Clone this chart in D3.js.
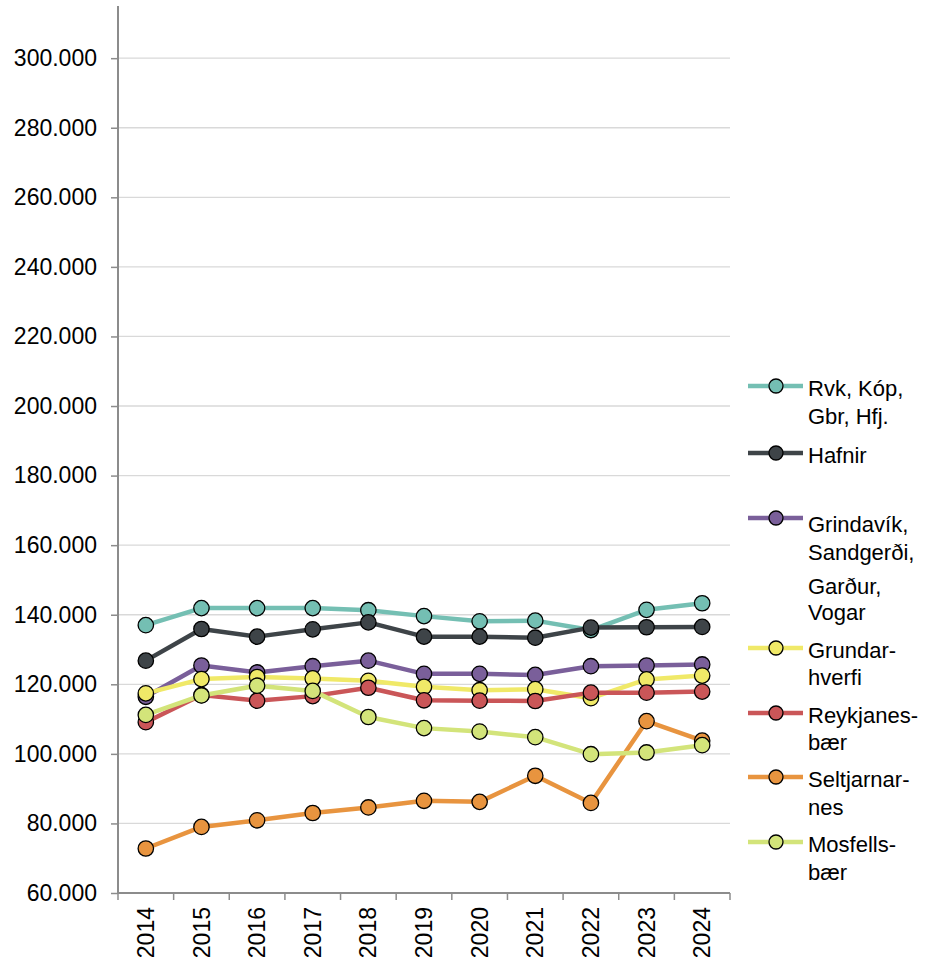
<!DOCTYPE html>
<html>
<head>
<meta charset="utf-8">
<script src="https://cdn.jsdelivr.net/npm/d3@7"></script>
<style>
  html, body { margin: 0; padding: 0; background: #fff; }
  svg { display: block; font-family: "Liberation Sans", Arial, sans-serif; }
</style>
</head>
<body>
<svg id="chart" width="926" height="965"></svg>
<script>
const years = ["2014","2015","2016","2017","2018","2019","2020","2021","2022","2023","2024"];
const seriesNames = ["Rvk, Kóp, Gbr, Hfj.", "Hafnir", "Grindavík, Sandgerði, Garður, Vogar", "Grundarhverfi", "Reykjanesbær", "Seltjarnarnes", "Mosfellsbær"];
const rvk       = [137000, 141900, 141900, 141900, 141300, 139600, 138100, 138300, 135600, 141400, 143300];
const hafnir    = [126800, 135900, 133700, 135800, 137800, 133700, 133700, 133400, 136300, 136400, 136500];
const grindavik = [116400, 125400, 123400, 125200, 126800, 123000, 123000, 122700, 125200, 125400, 125700];
const grundar   = [117400, 121500, 122100, 121700, 121000, 119300, 118300, 118600, 116000, 121400, 122500];
const reykjanes = [109100, 116900, 115300, 116600, 119000, 115400, 115300, 115200, 117600, 117600, 117900];
const seltjarn  = [72800, 79000, 80900, 83000, 84600, 86500, 86200, 93700, 85900, 109400, 103800];
const mosfells  = [111200, 116800, 119600, 118100, 110600, 107400, 106400, 104800, 99900, 100400, 102500];
const yTicks = [60000, 80000, 100000, 120000, 140000, 160000, 180000, 200000, 220000, 240000, 260000, 280000, 300000];
const legendLines = [
  ["Rvk, Kóp,", "Gbr, Hfj."],
  ["Hafnir"],
  ["Grindavík,", "Sandgerði,", "Garður,", "Vogar"],
  ["Grundar-", "hverfi"],
  ["Reykjanes-", "bær"],
  ["Seltjarnar-", "nes"],
  ["Mosfells-", "bær"]
];
const colors = ["#74BFB3", "#3E4448", "#7A5F9A", "#F0E968", "#CA5658", "#E8943F", "#D3E47A"];
const allValues = [rvk, hafnir, grindavik, grundar, reykjanes, seltjarn, mosfells];

const svg = d3.select("#chart");
const mLeft = 118, mRight = 730, mBottom = 893, mTop = 6;

const x = d3.scaleBand().domain(years).range([mLeft, mRight]);
const y = d3.scaleLinear().domain([60000, 315000]).range([mBottom, mTop]);

const loc = d3.formatLocale({decimal: ",", thousands: ".", grouping: [3], currency: ["", ""]});
const fmt = loc.format(",.0f");

// gridlines
svg.append("g").selectAll("line").data(yTicks.slice(1)).join("line")
  .attr("x1", mLeft).attr("x2", mRight)
  .attr("y1", d => y(d)).attr("y2", d => y(d))
  .attr("stroke", "#D9D9D9").attr("stroke-width", 1.3);

// y axis
const yAxis = svg.append("g").attr("transform", `translate(${mLeft},0)`)
  .call(d3.axisLeft(y).tickValues(yTicks).tickFormat(fmt).tickSize(7).tickPadding(14));
yAxis.select(".domain").attr("stroke", "#8C8C8C").attr("stroke-width", 2).attr("d", `M0,${mTop}V${mBottom}`);
yAxis.selectAll(".tick line").attr("stroke", "#8C8C8C").attr("stroke-width", 1.5);
yAxis.selectAll(".tick text").attr("font-size", 23).attr("fill", "#000")
  .attr("font-family", "'Liberation Sans', Arial, sans-serif");

// x axis
const xAxis = svg.append("g").attr("transform", `translate(0,${mBottom})`)
  .call(d3.axisBottom(x).tickSize(0).tickPadding(0));
xAxis.select(".domain").attr("stroke", "#8C8C8C").attr("stroke-width", 2).attr("d", `M${mLeft},0H${mRight}`);
xAxis.selectAll(".tick text")
  .attr("font-size", 23).attr("fill", "#000")
  .attr("font-family", "'Liberation Sans', Arial, sans-serif")
  .attr("text-anchor", "end")
  .attr("transform", "rotate(-90)")
  .attr("x", -14).attr("y", 0).attr("dy", "0.35em");
// boundary ticks
const bounds = years.map(d => x(d)).concat([mRight]);
svg.append("g").selectAll("line").data(bounds).join("line")
  .attr("x1", d => d).attr("x2", d => d)
  .attr("y1", mBottom).attr("y2", mBottom + 7)
  .attr("stroke", "#8C8C8C").attr("stroke-width", 1.5);

const cx = d => x(d) + x.bandwidth() / 2;
const line = d3.line().x((d, i) => cx(years[i])).y(d => y(d));

allValues.forEach((vals, si) => {
  const g = svg.append("g");
  g.append("path").datum(vals)
    .attr("d", line)
    .attr("fill", "none")
    .attr("stroke", colors[si])
    .attr("stroke-width", 4.5)
    .attr("stroke-linejoin", "round");
  g.selectAll("circle").data(vals).join("circle")
    .attr("cx", (d, i) => cx(years[i]))
    .attr("cy", d => y(d))
    .attr("r", 7.7)
    .attr("fill", colors[si])
    .attr("stroke", "#000")
    .attr("stroke-width", 1.3);
});

// legend
const markerY = [386, 453, 518, 648, 713, 777, 842];
const lineOffsets = [[0, 28], [0], [4, 32, 66, 92], [0, 27], [0, 27], [0, 28], [0, 28]];
const leg = svg.append("g");
legendLines.forEach((lines, i) => {
  const my = markerY[i];
  leg.append("line").attr("x1", 748).attr("x2", 803).attr("y1", my).attr("y2", my)
    .attr("stroke", colors[i]).attr("stroke-width", 4.5);
  leg.append("circle").attr("cx", 776).attr("cy", my).attr("r", 7)
    .attr("fill", colors[i]).attr("stroke", "#000").attr("stroke-width", 1.3);
  lines.forEach((t, j) => {
    leg.append("text").attr("x", 808).attr("y", my + 2 + lineOffsets[i][j])
      .attr("dy", "0.35em").attr("font-size", 22).attr("fill", "#000").text(t);
  });
});
</script>
</body>
</html>
